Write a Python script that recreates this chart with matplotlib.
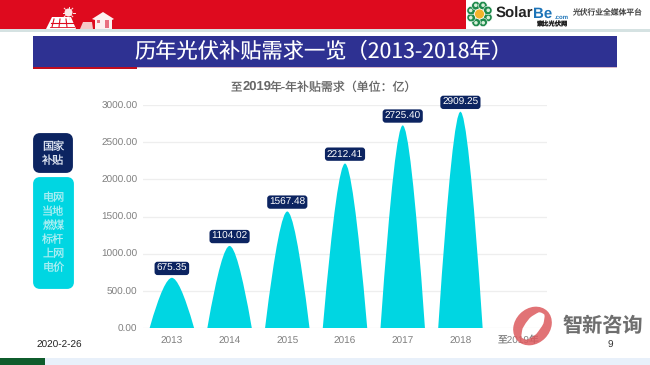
import matplotlib
matplotlib.use('Agg')
import matplotlib.pyplot as plt
from matplotlib.patches import Rectangle, FancyBboxPatch, PathPatch, Circle, Polygon
from matplotlib.path import Path
from matplotlib.transforms import Affine2D

plt.rcParams['font.family'] = ['Liberation Sans', 'Noto Sans CJK SC', 'DejaVu Sans']
plt.rcParams['text.hinting'] = 'no_hinting'
plt.rcParams['text.hinting_factor'] = 1

# Chart data
categories = ['2013', '2014', '2015', '2016', '2017', '2018', '至2019年']
values = [675.35, 1104.02, 1567.48, 2212.41, 2725.40, 2909.25]
y_ticks = [0, 500, 1000, 1500, 2000, 2500, 3000]

page_title = '历年光伏补贴需求一览（2013-2018年）'
box_top = '国家\n补贴'
box_bottom = '电网\n当地\n燃煤\n标杆\n上网\n电价'

W, H = 650, 365
fig = plt.figure(figsize=(W / 100, H / 100), dpi=100, facecolor='white')

# Background layer in pixel coordinates
bg = fig.add_axes([0, 0, 1, 1], zorder=0)
bg.set_xlim(0, W)
bg.set_ylim(H, 0)
bg.axis('off')

bg.add_patch(Rectangle((0, 0), 466, 29, color='#de0a1e', lw=0))
bg.add_patch(Rectangle((0, 29), W, 2.5, color='#d5e2e2', lw=0))
bg.add_patch(Rectangle((33, 36), 584, 31, color='#2e3192', lw=0))
bg.add_patch(Rectangle((33, 66.5), 104, 2.5, color='#c00d1e', lw=0))
bg.add_patch(Rectangle((137, 67), 480, 1.2, color='#d8b8c8', lw=0))
bg.text(323, 52, page_title, color='white', fontsize=15.3, ha='center', va='center',
        family=['Noto Sans CJK SC'], fontweight='medium')

# Solar panel and house icons
bg.add_patch(Polygon([(46, 29), (52, 17), (71, 17), (76, 29)], fc='white', ec='none'))
for gx, gx2 in ((54, 52), (60, 59), (66, 67)):
    bg.plot([gx, gx2], [19, 27], color='#de0a1e', lw=0.8)
bg.plot([51, 73], [22.5, 22.5], color='#de0a1e', lw=0.8)
bg.plot([50, 74], [27, 27], color='#de0a1e', lw=0.6)
bg.add_patch(Circle((68.5, 12.5), 4, fc='#fbe6e6', ec='none'))
for ang in range(0, 360, 45):
    t = Affine2D().rotate_deg(ang).translate(68.5, 12.5) + bg.transData
    bg.plot([4.5, 6], [0, 0], color='#fbe6e6', lw=0.7, transform=t)
bg.add_patch(Polygon([(80, 29), (83, 22), (92, 22), (93, 29)], fc='#f6c8c8', ec='none'))
bg.add_patch(Polygon([(92, 19), (103, 12), (114, 19), (112, 20), (112, 29), (95, 29), (95, 20)],
                     fc='#fdf0f0', ec='none'))
bg.add_patch(Rectangle((105, 20), 4, 8, fc='#e87080', lw=0))
bg.add_patch(Rectangle((97, 20), 3, 3, fc='#e87080', lw=0))

# SolarBe logo
for ang in range(0, 360, 45):
    t = Affine2D().rotate_deg(ang + 22).translate(479.5, 14) + bg.transData
    bg.add_patch(Circle((9, 0), 4.3, fc='#1f8a4c', ec='white', lw=0.4, transform=t))
    bg.add_patch(Circle((9.5, 0), 1.8, fc='#d7efd9', ec='none', transform=t))
bg.add_patch(Circle((479.5, 14), 5, fc='#f3b32a', ec='white', lw=0.5))
bg.text(495.5, 14, 'Solar', color='#222222', fontsize=11, fontweight='bold', va='center')
bg.text(533.5, 14, 'Be', color='#1d74b8', fontsize=11, fontweight='bold', va='center')
bg.text(555, 17, '.com', color='#1d74b8', fontsize=4.6, fontweight='bold', va='center')
bg.text(551.5, 24.5, '索比光伏网', color='#222222', fontsize=4.5, fontweight='bold',
        ha='center', va='center')
bg.text(606.5, 13, '光伏行业全媒体平台', color='#444444', fontsize=5.6, ha='center', va='center')

# Left boxes
bg.add_patch(FancyBboxPatch((36, 136), 34, 34, boxstyle='round,pad=0,rounding_size=4',
                            mutation_aspect=1, fc='#0c2461', ec='#0c2461', lw=4.2))
bg.text(53, 153.5, box_top, color='#dfe6f2', fontsize=8, ha='center', va='center',
        linespacing=1.25, family=['Noto Sans CJK SC'])
bg.add_patch(FancyBboxPatch((36, 180), 35, 106, boxstyle='round,pad=0,rounding_size=4',
                            mutation_aspect=1, fc='#00d6e2', ec='#00d6e2', lw=4.2))
bg.text(53.5, 233, box_bottom, color='#a8eef2', fontsize=8, ha='center', va='center',
        linespacing=1.25, family=['Noto Sans CJK SC'])

# Footer
bg.add_patch(Rectangle((0, 358), 45, 7, color='#0f5c2c', lw=0))
bg.add_patch(Rectangle((45, 358), W - 45, 7, color='#e8f0fa', lw=0))
bg.text(59, 345, '2020-2-26', color='#222222', fontsize=7, ha='center', va='center')
bg.text(610, 345, '9', color='#333333', fontsize=7, ha='center', va='center')

# Chart title, bold only on the latin part
bg.text(231, 87, '至', color='#666666', fontsize=8.2, va='center', family=['Noto Sans CJK SC'])
bg.text(242.5, 87, '2019', color='#666666', fontsize=9, va='center', fontweight='bold')
bg.text(270, 87, '年-年补贴需求（单位：亿）', color='#666666', fontsize=8.6, va='center',
        family=['Noto Sans CJK SC'])

# Main chart
left, right, top, bottom = 143, 547, 105, 328
ax = fig.add_axes([left / W, 1 - bottom / H, (right - left) / W, (bottom - top) / H], zorder=1)
ax.patch.set_alpha(0)
ax.set_xlim(-0.5, len(categories) - 0.5)
ax.set_ylim(0, 3000)
ax.set_yticks(y_ticks)
ax.set_yticklabels([f'{v:.2f}' for v in y_ticks], color='#7f7f7f', fontsize=7)
ax.set_xticks(range(len(categories)))
ax.set_xticklabels(categories, color='#7f7f7f', fontsize=7)
ax.tick_params(axis='y', length=0, pad=4)
ax.tick_params(axis='x', length=0, pad=6)
ax.grid(axis='y', color='#eeeeee', lw=0.9)
ax.set_axisbelow(True)
for s in ax.spines.values():
    s.set_visible(False)

half = 0.385
for i, v in enumerate(values):
    # Rounded arch peaking at the value
    verts = [(i - half, 0), (i - 0.55 * half, 0.7 * v), (i - 0.22 * half, v), (i, v),
             (i + 0.22 * half, v), (i + 0.55 * half, 0.7 * v), (i + half, 0), (i - half, 0)]
    codes = [Path.MOVETO] + [Path.CURVE4] * 6 + [Path.CLOSEPOLY]
    ax.add_patch(PathPatch(Path(verts, codes), fc='#00d6e2', ec='none'))
    ax.annotate(f'{v:.2f}', (i, v), xytext=(0, 3.4), textcoords='offset points', ha='center',
                va='bottom', color='white', fontsize=7.2, annotation_clip=False,
                bbox=dict(boxstyle='round,pad=0.2,rounding_size=0.3', fc='#0c2461', ec='none'))

# Watermark on top of the chart
fg = fig.add_axes([0, 0, 1, 1], zorder=2)
fg.set_xlim(0, W)
fg.set_ylim(H, 0)
fg.axis('off')
fg.patch.set_alpha(0)
outer = Path.unit_circle().transformed(Affine2D().scale(21, 17.5).rotate_deg(-45).translate(532.5, 326))
inner = Path.unit_circle().transformed(Affine2D().scale(16, 7.5).rotate_deg(-52).translate(533, 326))
inner = Path(inner.vertices[::-1], inner.codes)
fg.add_patch(PathPatch(Path.make_compound_path(outer, inner), fc='#dc5a5e', ec='none', alpha=0.85))
fg.text(603, 326, '智新咨询', color='#6e6e6e', fontsize=14.5, fontweight='bold', ha='center', va='center',
        family=['Noto Sans CJK SC'])

fig.savefig('out.png', dpi=100)
